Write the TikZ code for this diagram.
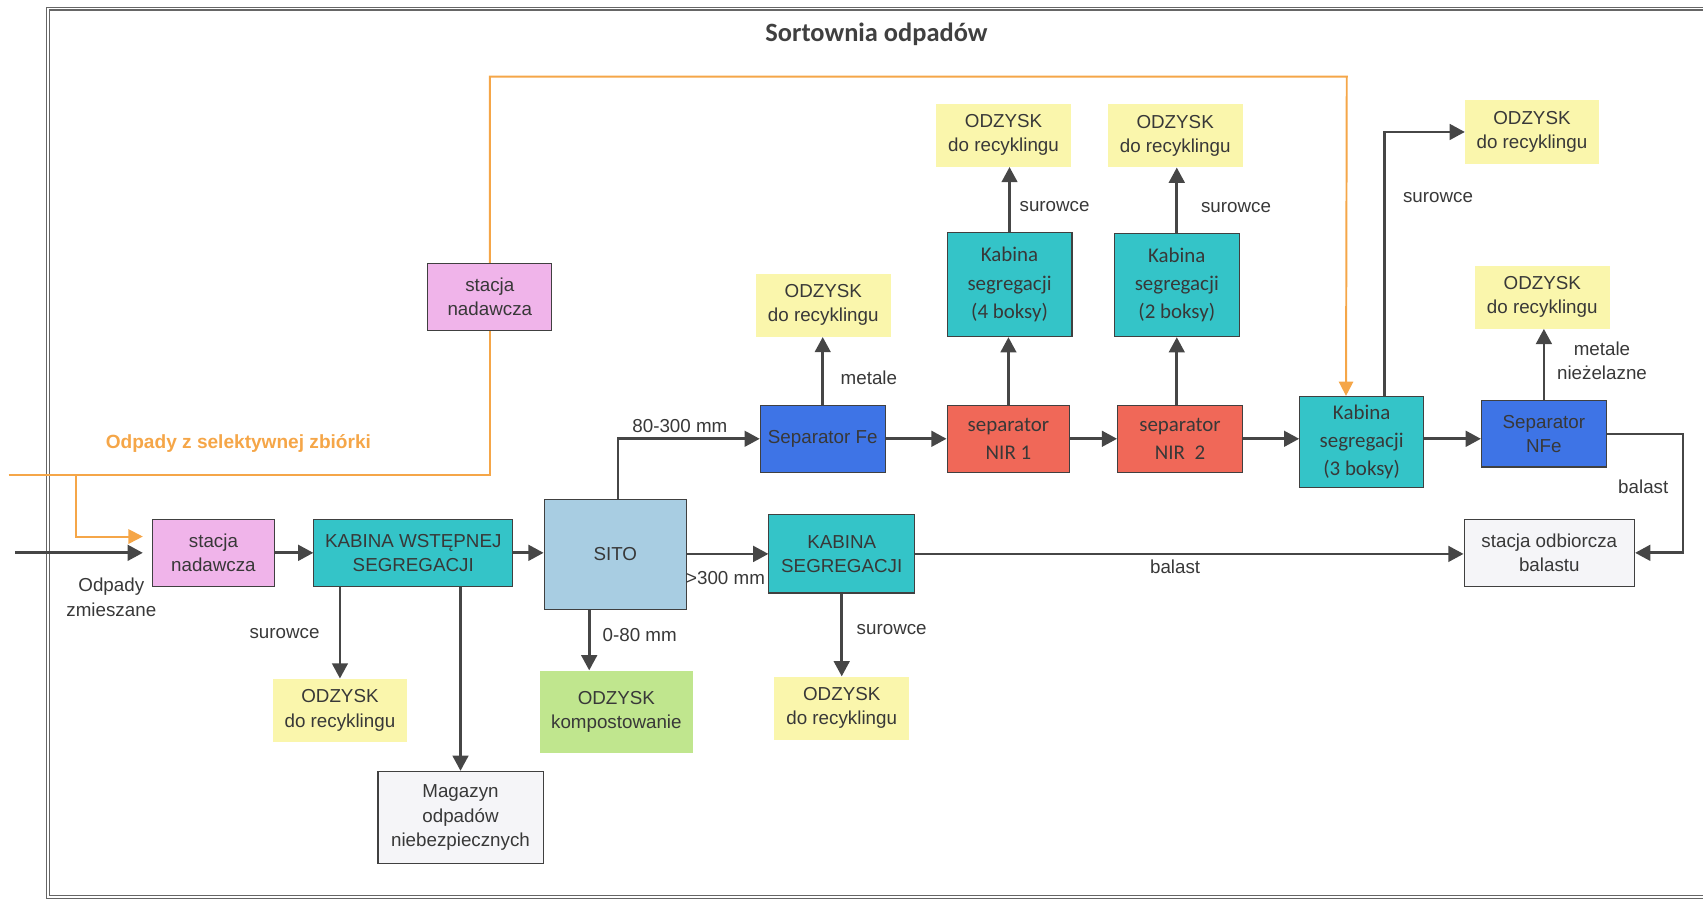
\documentclass[tikz,border=0pt]{standalone}
\usepackage{fontspec}
\setmainfont{Liberation Sans}
\newfontfamily\calibrif{Carlito}
\usepackage{tikz}
\usetikzlibrary{arrows.meta}

\definecolor{tealbox}{RGB}{52,196,200}
\definecolor{pinkbox}{RGB}{240,180,234}
\definecolor{sitoblue}{RGB}{168,205,226}
\definecolor{sepblue}{RGB}{62,116,230}
\definecolor{nirred}{RGB}{240,104,88}
\definecolor{odzyskyellow}{RGB}{250,246,172}
\definecolor{kompgreen}{RGB}{192,230,142}
\definecolor{greybox}{RGB}{245,245,248}
\definecolor{arrowgrey}{RGB}{70,70,70}
\definecolor{orangeline}{RGB}{245,166,72}

\newcommand{\arialtxt}{\fontsize{12.3}{15.9}\selectfont}
\newcommand{\calibritxt}{\calibrif\fontsize{13.7}{18.5}\selectfont}

\tikzset{
    wh/.style 2 args={minimum width=#1*0.25mm, minimum height=#2*0.25mm},
    box/.style={draw=black!75, line width=0.7pt, align=center, inner sep=0pt, text=black!78, font=\arialtxt},
    cbox/.style={box, font=\calibritxt},
    odzysk/.style={fill=odzyskyellow, align=center, inner sep=0pt, text=black!78, font=\arialtxt, wh={124}{58}},
    lbl/.style={inner sep=0pt, text=black!78, font=\arialtxt, align=center},
    arr/.style={draw=arrowgrey, line width=0.62mm, -{Triangle[length=3.5mm,width=3.6mm]}},
    orng/.style={draw=orangeline, line width=0.45mm},
    orngarr/.style={orng, -{Triangle[length=3.3mm,width=3.3mm]}}
}

\begin{document}
\begin{tikzpicture}[x=0.25mm, y=-0.25mm]
    \useasboundingbox (0,0) rectangle (1568,830);
    % Frame (right side runs off the page)
    \draw[black!60, line width=0.3mm, double=white, double distance=0.35mm] (1575,8) -- (44,8) -- (44,826) -- (1575,826);

    \node[text=black!75, font=\calibrif\fontsize{17.3}{20}\selectfont\bfseries] (tytul) at (807,32) {Sortownia odpadów};

    % Lower line
    \node[box, fill=pinkbox, wh={113}{62}] (stacjaL) at (196.5,509) {stacja\\nadawcza};
    \node[box, fill=tealbox, wh={183}{62}] (kabW) at (380.5,509) {KABINA WSTĘPNEJ\\SEGREGACJI};
    \node[box, fill=sitoblue, wh={131}{101}] (sito) at (566.5,510.5) {SITO};
    \node[box, fill=tealbox, wh={134}{72}] (kabS) at (775,510) {KABINA\\SEGREGACJI};
    \node[box, fill=greybox, wh={157}{62}] (odb) at (1426.5,509) {stacja odbiorcza\\balastu};
    \node[box, fill=greybox, wh={152}{85}] (mag) at (424,752.7) {Magazyn\\odpadów\\niebezpiecznych};
    \node[odzysk] (odzW) at (313,654) {ODZYSK\\do recyklingu};
    \node[odzysk, fill=kompgreen, wh={141}{76}] (komp) at (567.5,655.5) {ODZYSK\\kompostowanie};
    \node[odzysk] (odzS) at (775,652) {ODZYSK\\do recyklingu};

    % Upper line
    \node[box, fill=pinkbox, wh={114}{62}] (stacjaG) at (451,273.5) {stacja\\nadawcza};
    \node[box, fill=sepblue, wh={115}{62}] (fe) at (757.5,404) {Separator Fe};
    \node[cbox, fill=nirred, wh={113}{62}] (nir1) at (928.5,404) {separator\\NIR 1};
    \node[cbox, fill=nirred, wh={115}{62}] (nir2) at (1086.5,404) {separator\\NIR~ 2};
    \node[cbox, fill=tealbox, wh={114}{84}] (kab3) at (1253.7,407) {Kabina\\segregacji\\(3 boksy)};
    \node[box, fill=sepblue, wh={115}{61}] (nfe) at (1421.5,399.5) {Separator\\NFe};
    \node[cbox, fill=tealbox, wh={115}{96}] (kab4) at (929.5,262) {Kabina\\segregacji\\(4 boksy)};
    \node[cbox, fill=tealbox, wh={115}{95}] (kab2) at (1083.5,262.5) {Kabina\\segregacji\\(2 boksy)};
    \node[odzysk] (odzFe) at (758,281) {ODZYSK\\do recyklingu};
    \node[odzysk] (odz4) at (924,124.5) {ODZYSK\\do recyklingu};
    \node[odzysk] (odz2) at (1082,125) {ODZYSK\\do recyklingu};
    \node[odzysk, wh={123}{59}] (odzP) at (1410.5,121.5) {ODZYSK\\do recyklingu};
    \node[odzysk] (odzN) at (1420,273.5) {ODZYSK\\do recyklingu};

    % Selective collection (orange)
    \coordinate (selekt) at (8,437);
    \coordinate (rozgal) at (70,437);
    \draw[orng] (selekt) -- (selekt -| stacjaG) -- (stacjaG.south);
    \draw[orngarr] (stacjaG.north) |- (1240,70.6) -- ([xshift=-3.6mm]kab3.north);
    \draw[orngarr, shorten >=2mm] (rozgal) |- ([yshift=3.75mm]stacjaL.west);
    \node[lbl, text=orangeline, font=\fontsize{12.5}{15}\selectfont\bfseries] (selektlbl) at (219.5,408) {Odpady z selektywnej zbiórki};

    % Mixed waste
    \coordinate (wejscie) at (14,509);
    \draw[arr, shorten >=2mm] (wejscie) -- (stacjaL.west);
    \node[lbl] (zmiesz) at (102.5,550) {Odpady\\zmieszane};
    \draw[arr] (stacjaL) -- (kabW);
    \draw[arr] (kabW.east) -- (kabW.east -| sito.west);
    \draw[arr] (kabW.south -| odzW) -- (odzW.north);
    \draw[arr] (kabW.south -| mag) -- (mag.north);
    \node[lbl] (surW) at (262,583) {surowce};

    % Sieve
    \draw[arr] (sito.east |- kabS) -- (kabS.west);
    \node[lbl] (l300) at (668,532.5) {>300 mm};
    \draw[arr] ([xshift=-6mm]sito.south) -- ([xshift=-6mm]sito.south |- komp.north);
    \node[lbl] (l080) at (589,584.7) {0-80 mm};
    \draw[arr] ([xshift=0.6mm]sito.north) |- (fe.west);
    \node[lbl] (l80300) at (626,392) {80-300 mm};
    \draw[arr] (kabS.south) -- (odzS.north);
    \node[lbl] (surS) at (821,580) {surowce};
    \draw[arr] (kabS.east) -- (kabS.east -| odb.west);
    \node[lbl] (balD) at (1082,522) {balast};

    % Separators and cabins
    \draw[arr] (fe) -- (nir1);
    \draw[arr] (fe.north) -- (fe.north |- odzFe.south);
    \node[lbl] (metale) at (800,347.4) {metale};
    \draw[arr] (nir1) -- (nir2);
    \draw[arr] (nir1.north) -- (nir1.north |- kab4.south);
    \draw[arr] (kab4.north) -- (kab4.north |- odz4.south);
    \node[lbl] (sur4) at (971,190) {surowce};
    \draw[arr] (nir2.north -| kab2) -- (kab2.south);
    \draw[arr] (kab2.north) -- (kab2.north |- odz2.south);
    \node[lbl] (sur2) at (1138,190.8) {surowce};
    \draw[arr] (nir2.east) -- (nir2.east -| kab3.west);
    \draw[arr] ([xshift=5.2mm]kab3.north) |- (odzP.west);
    \node[lbl] (sur3) at (1324,181.7) {surowce};
    \draw[arr] (kab3.east |- nir2) -- (nfe.west |- nir2);
    \draw[arr] (nfe.north) -- (nfe.north |- odzN.south);
    \node[lbl] (metNFe) at (1475,332) {metale\\nieżelazne};
    \draw[arr] (nfe.east) -- ++(70,0) |- (odb.east);
    \node[lbl] (balP) at (1513,448.5) {balast};
\end{tikzpicture}
\end{document}
